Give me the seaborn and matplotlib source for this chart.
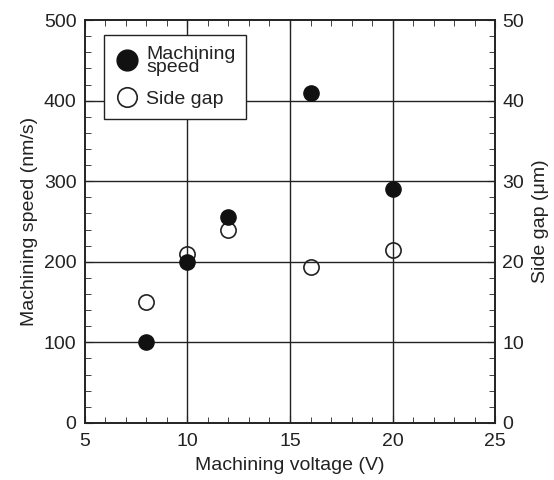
import numpy as np
import pandas as pd
import seaborn as sns
import matplotlib.pyplot as plt
from matplotlib.ticker import MultipleLocator
from matplotlib.lines import Line2D

# values
voltage = [8, 10, 12, 16, 20]
speed = [100, 200, 255, 410, 290]
side_gap = [15, 21, 24, 19.4, 21.5]

sns.set_style("ticks")
plt.rcParams['font.family'] = ['Liberation Sans', 'DejaVu Sans']

df = pd.DataFrame({'voltage': voltage, 'speed': speed, 'gap': side_gap})

fig = plt.figure(figsize=(5.54, 4.8), dpi=100)
ax = fig.add_axes([0.153, 0.119, 0.741, 0.839])
ax2 = ax.twinx()

# grid lines only at the major values inside the box
for v in [10, 15, 20]:
    ax.axvline(v, color='#222222', lw=1.0, zorder=1)
for h in [100, 200, 300, 400]:
    ax.axhline(h, color='#222222', lw=1.0, zorder=1)

sns.scatterplot(data=df, x='voltage', y='speed', ax=ax, color='#111111',
                edgecolor='#111111', s=120, linewidth=1, zorder=3, legend=False)
sns.scatterplot(data=df, x='voltage', y='gap', ax=ax2, color='white',
                edgecolor='#222222', s=120, linewidth=1.2, zorder=3, legend=False)

ax.set_xlim(5, 25)
ax.set_ylim(0, 500)
ax2.set_ylim(0, 50)
ax.xaxis.set_major_locator(MultipleLocator(5))
ax.xaxis.set_minor_locator(MultipleLocator(1))
ax.yaxis.set_major_locator(MultipleLocator(100))
ax.yaxis.set_minor_locator(MultipleLocator(20))
ax2.yaxis.set_major_locator(MultipleLocator(10))
ax2.yaxis.set_minor_locator(MultipleLocator(2))

fs = 14
ax.tick_params(which='both', direction='in', top=True, labelsize=fs, colors='#222222')
ax.tick_params(which='major', length=6, pad=6)
ax.tick_params(which='minor', length=4.5)
ax.tick_params(axis='x', which='major', pad=7)
ax2.tick_params(which='both', direction='in', labelsize=fs, colors='#222222')
ax2.tick_params(which='major', length=6, pad=5)
ax2.tick_params(which='minor', length=4.5)

for a in (ax, ax2):
    for sp in a.spines.values():
        sp.set_linewidth(1.2)
        sp.set_color('#222222')

ax.set_xlabel('Machining voltage (V)', fontsize=fs, labelpad=5, color='#222222')
ax.set_ylabel('Machining speed (nm/s)', fontsize=fs, labelpad=4, color='#222222')
ax2.set_ylabel('Side gap (μm)', fontsize=fs, labelpad=6, color='#222222')
ax.set_zorder(ax2.get_zorder() + 1)
ax.patch.set_visible(False)

handles = [Line2D([], [], marker='o', ls='', markersize=15, markerfacecolor='#111111',
                  markeredgecolor='#111111'),
           Line2D([], [], marker='o', ls='', markersize=14, markerfacecolor='white',
                  markeredgecolor='#222222', markeredgewidth=1.2)]
leg = ax.legend(handles, ['Machining\nspeed', 'Side gap'], loc='upper left',
                bbox_to_anchor=(0.046, 0.963), fontsize=fs, frameon=True,
                fancybox=False, edgecolor='#222222', framealpha=1,
                handletextpad=0.35, borderpad=0.55, labelspacing=0.75,
                handlelength=1.3, borderaxespad=0)
leg.get_frame().set_linewidth(1.0)
for t in leg.get_texts():
    t.set_linespacing(0.7)
    t.set_color('#222222')
leg.set_zorder(5)

fig.savefig('out.png', dpi=100)
